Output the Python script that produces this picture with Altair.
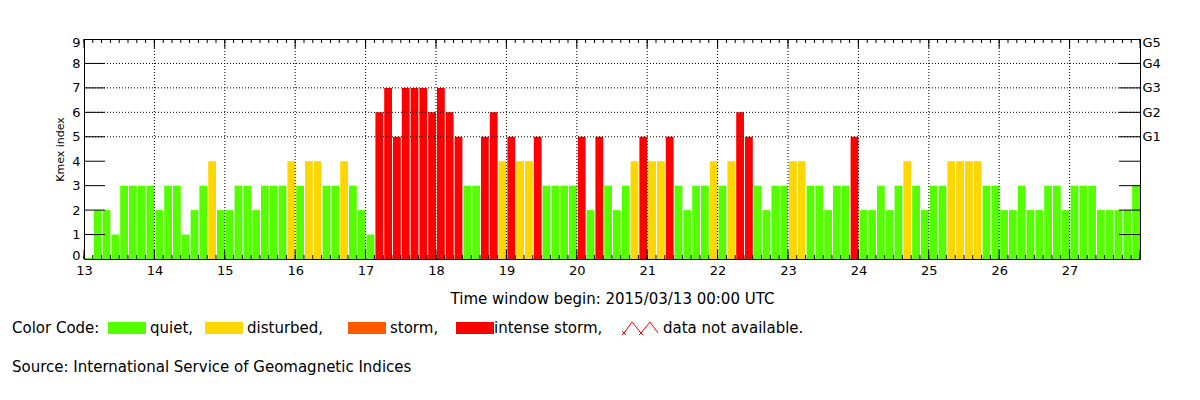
import altair as alt
import pandas as pd

# ---------------- data ----------------
days = list(range(13, 28))
kmex_by_day = [
    [0.05, 2, 2, 1, 3, 3, 3, 3],  # 13
    [2, 3, 3, 1, 2, 3, 4, 2],     # 14
    [2, 3, 3, 2, 3, 3, 3, 4],     # 15
    [3, 4, 4, 3, 3, 4, 3, 2],     # 16
    [1, 6, 7, 5, 7, 7, 7, 6],     # 17
    [7, 6, 5, 3, 3, 5, 6, 4],     # 18
    [5, 4, 4, 5, 3, 3, 3, 3],     # 19
    [5, 2, 5, 3, 2, 3, 4, 5],     # 20
    [4, 4, 5, 3, 2, 3, 3, 4],     # 21
    [3, 4, 6, 5, 3, 2, 3, 3],     # 22
    [4, 4, 3, 3, 2, 3, 3, 5],     # 23
    [2, 2, 3, 2, 3, 4, 3, 2],     # 24
    [3, 3, 4, 4, 4, 4, 3, 3],     # 25
    [2, 2, 3, 2, 2, 3, 3, 2],     # 26
    [3, 3, 3, 2, 2, 2, 2, 3],     # 27
]
y_labels = list(range(0, 10))
grid_levels = [5, 6, 7, 8]
g_levels = [5, 6, 7, 8, 9]
tick_levels = [1, 2, 3, 4, 5, 6, 7, 8]
cat_names = ["quiet", "disturbed", "storm", "intense storm"]
cat_colors = ["#55ff00", "#ffd700", "#ff5a00", "#ff0000"]
legend_labels = ["quiet,", "disturbed,", "storm,", "intense storm,"]
x_title = "Time window begin: 2015/03/13 00:00 UTC"
source_text = "Source: International Service of Geomagnetic Indices"

FONT = "DejaVu Sans"
W, H = 1056, 220

rows = []
for d, vals in zip(days, kmex_by_day):
    for k, v in enumerate(vals):
        s = d + k / 8
        if v < 4:
            c = "quiet"
        elif v < 5:
            c = "disturbed"
        else:
            c = "intense storm"
        rows.append({"start": s, "end": s + 1 / 8, "kmex": v, "cat": c})
bars_df = pd.DataFrame(rows)
minor_df = pd.DataFrame({"pos": [13 + k / 8 for k in range(0, 121)]})
day_df = pd.DataFrame({"day": days[1:]})
alldays_df = pd.DataFrame({"day": days + [28]})

xs = alt.Scale(domain=[13, 28], nice=False, zero=False)
ys = alt.Scale(domain=[0, 9], nice=False, zero=True)
dotted = dict(color="black", strokeDash=[1, 2], strokeWidth=1)

bars = alt.Chart(bars_df).mark_bar(xOffset=1).encode(
    x=alt.X("start:Q", scale=xs, axis=alt.Axis(
        values=days, format="d", ticks=False, domain=False, grid=False,
        labelFlush=False, labelPadding=5, labelFontSize=13, title=x_title,
        titleFontSize=15, titlePadding=14)),
    x2="end:Q",
    y=alt.Y("kmex:Q", scale=ys, axis=alt.Axis(
        orient="left", values=y_labels, format="d", ticks=False, domain=False,
        grid=False, labelFlush=True, labelFlushOffset=3, labelPadding=4,
        labelFontSize=13, title="Kmex index", titleFontSize=11, titlePadding=6)),
    y2=alt.datum(0),
    color=alt.Color("cat:N", scale=alt.Scale(domain=cat_names, range=cat_colors),
                    legend=None),
)

# gridlines (right axis carried here)
hgrid = alt.Chart(pd.DataFrame({"lvl": grid_levels})).mark_rule(**dotted).encode(
    y=alt.Y("lvl:Q", scale=ys, axis=alt.Axis(
        orient="right", values=g_levels, labelExpr="'G' + (datum.value - 4)",
        ticks=False, domain=False, grid=False, labelFlush=True, labelFlushOffset=3,
        labelPadding=2, labelFontSize=13, title=None))
)
vgrid = alt.Chart(day_df).mark_rule(**dotted).encode(
    x=alt.X("day:Q", scale=xs, axis=None)
)

top_minor = alt.Chart(minor_df).mark_rule(color="black").encode(
    x=alt.X("pos:Q", scale=xs, axis=None), y=alt.value(0), y2=alt.value(4))
bot_minor = alt.Chart(minor_df).mark_rule(color="black").encode(
    x=alt.X("pos:Q", scale=xs, axis=None), y=alt.value(H), y2=alt.value(H - 4))
top_day = alt.Chart(alldays_df).mark_rule(color="black").encode(
    x=alt.X("day:Q", scale=xs, axis=None), y=alt.value(0), y2=alt.value(9))
bot_day = alt.Chart(alldays_df).mark_rule(color="black").encode(
    x=alt.X("day:Q", scale=xs, axis=None), y=alt.value(H), y2=alt.value(H - 9))
left_ticks = alt.Chart(pd.DataFrame({"lvl": tick_levels})).mark_rule(color="black").encode(
    y=alt.Y("lvl:Q", scale=ys, axis=None), x=alt.value(0), x2=alt.value(21))
right_ticks = alt.Chart(pd.DataFrame({"lvl": tick_levels})).mark_rule(color="black").encode(
    y=alt.Y("lvl:Q", scale=ys, axis=None), x=alt.value(W - 21), x2=alt.value(W))

# ---------------- legend / footer (hand placed) ----------------
one = pd.DataFrame({"a": [0]})
deco = []
LY = 289
def text_at(t, x, y, size=15):
    return alt.Chart(pd.DataFrame({"t": [t]})).mark_text(
        align="left", baseline="middle", font=FONT, fontSize=size, color="black"
    ).encode(text="t:N", x=alt.value(x), y=alt.value(y))

deco.append(text_at("Color Code:", -72, LY))
swatch_x = [24, 121, 264, 372]
label_x = [66, 163, 306, 410]
for lab, col, sx, lx in zip(legend_labels, cat_colors, swatch_x, label_x):
    deco.append(alt.Chart(one).mark_rect(color=col).encode(
        x=alt.value(sx), x2=alt.value(sx + 38), y=alt.value(LY - 6), y2=alt.value(LY + 6)))
    deco.append(text_at(lab, lx, LY))

zig = [(540, 294), (548, 283), (557, 294), (566, 283), (574, 294)]
for (x1, y1), (x2, y2) in zip(zig[:-1], zig[1:]):
    deco.append(alt.Chart(one).mark_rule(color="#ff0000", strokeWidth=1).encode(
        x=alt.value(x1), x2=alt.value(x2), y=alt.value(y1), y2=alt.value(y2)))
for cx, cy in [zig[0], zig[2]]:
    for dx in (-2, 2):
        deco.append(alt.Chart(one).mark_rule(color="#ff0000", strokeWidth=1).encode(
            x=alt.value(cx - 2), x2=alt.value(cx + 2), y=alt.value(cy - dx), y2=alt.value(cy + dx)))
deco.append(text_at("data not available.", 579, LY))
deco.append(text_at(source_text, -72, 328))

chart = alt.layer(
    bars, vgrid, hgrid, top_minor, bot_minor, top_day, bot_day, left_ticks, right_ticks, *deco
).resolve_axis(x="independent", y="independent").properties(
    width=W, height=H,
    autosize=alt.AutoSizeParams(type="none"),
    padding={"left": 84, "top": 39, "right": 1200 - 84 - W, "bottom": 400 - 39 - H},
    background="white",
).configure_view(stroke="black", strokeWidth=1).configure_axis(
    labelFont=FONT, titleFont=FONT, labelColor="black", titleColor="black",
    titleFontWeight="normal"
)

chart.save("out.html", embed_options={"renderer": "svg", "actions": False})
